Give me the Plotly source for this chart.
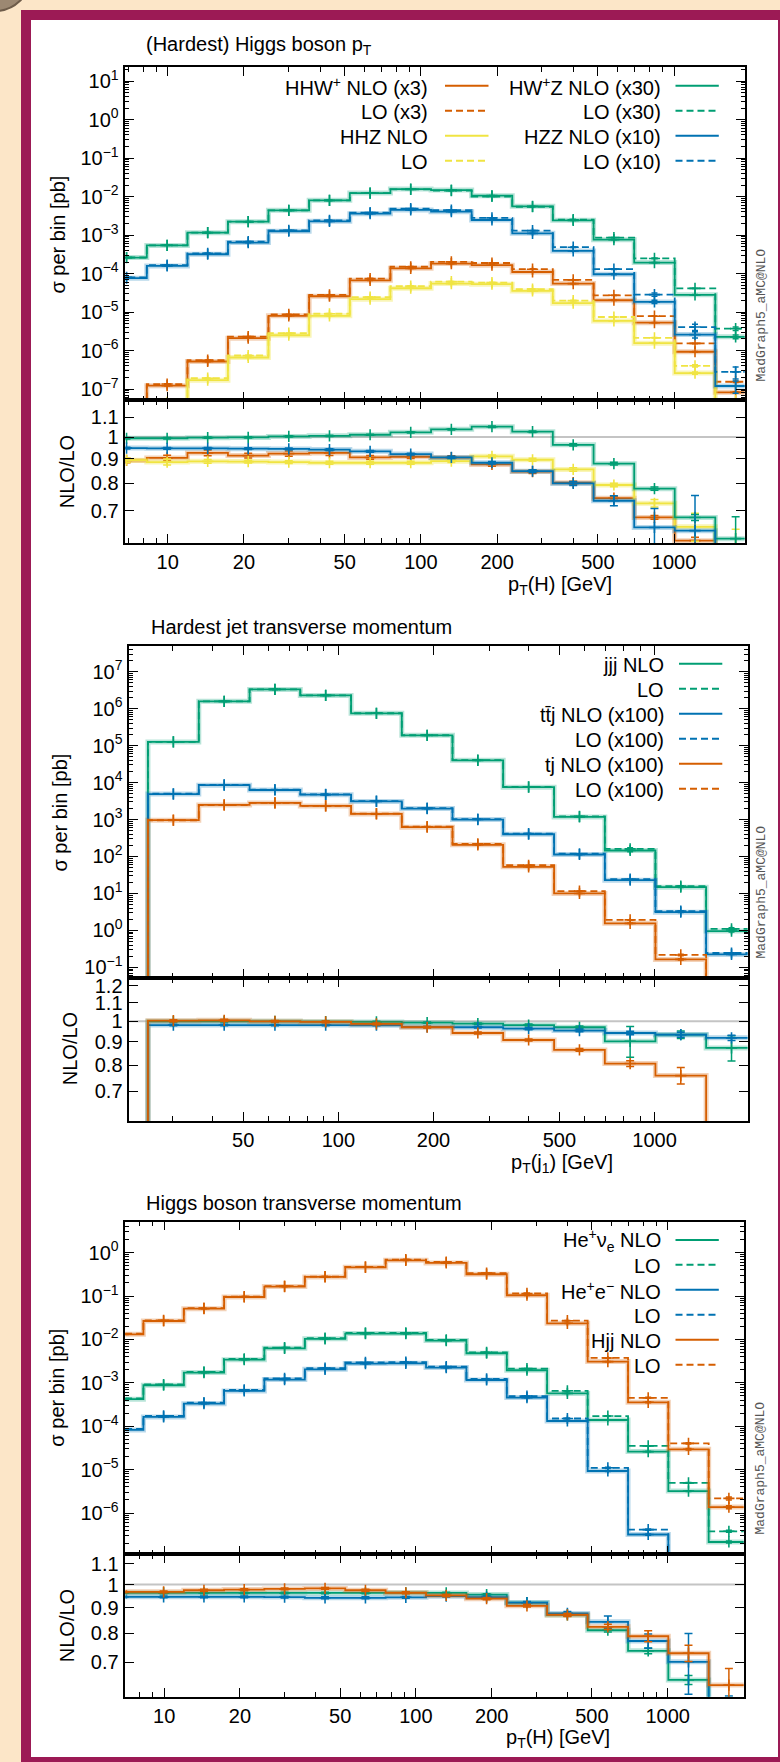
import math
import plotly.graph_objects as go

W, H = 780, 1762
FONT = "Liberation Sans, Arial, Helvetica, sans-serif"
MONO = "Liberation Mono, Courier New, monospace"
GREEN, BLUE, ORANGE, YELLOW = "#009E73", "#0072B2", "#D55E00", "#F0E442"
BAND = {GREEN: "rgba(0,158,115,0.28)", BLUE: "rgba(0,114,178,0.28)",
        ORANGE: "rgba(213,94,0,0.28)", YELLOW: "rgba(240,228,66,0.38)"}

# ---------------- data ----------------
EDGES = [5.72, 8.27, 11.97, 17.3, 25.0, 36.2, 52.4, 75.8, 109.7, 158.7,
         229.6, 332.0, 481.0, 696.0, 1006.0, 1455.0, 2106.0]

# Panel 1: (Hardest) Higgs boson pT
p1_hhw_nlo = [2.0e-8, 1.22e-7, 5.2e-7, 2.1e-6, 8.0e-6, 2.58e-5, 6.7e-5, 1.37e-4,
              1.82e-4, 1.65e-4, 1.10e-4, 5.5e-5, 2.03e-5, 5.3e-6, 9.3e-7, 8.2e-8]
p1_hhw_ratio = [0.893, 0.904, 0.926, 0.914, 0.923, 0.926, 0.906, 0.909,
                0.905, 0.876, 0.846, 0.802, 0.744, 0.678, 0.606, 0.53]
p1_hhw_err = [0.01, 0.012, 0.013, 0.01, 0.012, 0.011, 0.008, 0.008,
              0.008, 0.008, 0.008, 0.006, 0.007, 0.006, 0.01, 0.02]
p1_hhz_nlo = [1.0e-8, 4.0e-8, 1.7e-7, 6.6e-7, 2.5e-6, 8.0e-6, 2.16e-5, 4.16e-5,
              5.5e-5, 5.3e-5, 3.55e-5, 1.7e-5, 5.9e-6, 1.56e-6, 2.6e-7, 3.0e-8]
p1_hhz_ratio = [0.894, 0.886, 0.889, 0.888, 0.886, 0.883, 0.883, 0.883,
                0.890, 0.911, 0.896, 0.855, 0.793, 0.726, 0.648, 0.59]
p1_hhz_err = [0.01, 0.013, 0.008, 0.006, 0.006, 0.006, 0.006, 0.006,
              0.006, 0.006, 0.006, 0.007, 0.007, 0.013, 0.044, 0.05]
p1_hwz_nlo = [2.6e-4, 5.4e-4, 1.16e-3, 2.23e-3, 4.4e-3, 8.0e-3, 1.24e-2, 1.57e-2,
              1.48e-2, 1.06e-2, 5.6e-3, 2.42e-3, 7.6e-4, 1.93e-4, 2.8e-5, 2.27e-6]
p1_hwz_ratio = [0.994, 0.994, 0.997, 0.998, 1.003, 1.006, 1.011, 1.023,
                1.038, 1.051, 1.026, 0.963, 0.879, 0.779, 0.678, 0.612]
p1_hwz_err = [0.004, 0.004, 0.003, 0.003, 0.003, 0.003, 0.003, 0.003,
              0.003, 0.004, 0.004, 0.005, 0.006, 0.006, 0.01, 0.068]
p1_hzz_nlo = [7.6e-5, 1.58e-4, 3.18e-4, 6.4e-4, 1.26e-3, 2.28e-3, 3.6e-3, 4.5e-3,
              4.06e-3, 2.47e-3, 1.11e-3, 3.87e-4, 9.6e-5, 1.84e-5, 2.6e-6, 1.2e-7]
p1_hzz_ratio = [0.948, 0.947, 0.947, 0.945, 0.944, 0.941, 0.933, 0.921,
                0.906, 0.883, 0.848, 0.799, 0.735, 0.646, 0.636, 0.43]
p1_hzz_err = [0.004, 0.004, 0.004, 0.004, 0.004, 0.004, 0.004, 0.004,
              0.005, 0.005, 0.006, 0.008, 0.018, 0.062, 0.118, 0.15]

# Panel 2: Hardest jet transverse momentum
p2_jjj_nlo = [None, None, None, None, 1.26e5, 1.58e6, 3.33e6, 2.29e6,
              7.5e5, 1.9e5, 4.0e4, 7.5e3, 1.18e3, 1.45e2, 14.8, 0.96]
p2_jjj_ratio = [None, None, None, None, 1.0, 1.0, 1.0, 0.998,
                0.997, 0.993, 0.988, 0.981, 0.970, 0.903, 0.934, 0.873]
p2_jjj_err = [None, None, None, None, 0.004, 0.004, 0.003, 0.003,
              0.003, 0.003, 0.004, 0.005, 0.006, 0.071, 0.018, 0.056]
p2_ttj_nlo = [None, None, None, None, 4.9e3, 8.5e3, 6.3e3, 4.7e3,
              3.1e3, 1.98e3, 1.0e3, 4.0e2, 1.13e2, 22.9, 3.1, 0.224]
p2_ttj_ratio = [None, None, None, None, 0.981, 0.981, 0.981, 0.981,
                0.980, 0.972, 0.970, 0.963, 0.954, 0.942, 0.934, 0.919]
p2_ttj_err = [None, None, None, None, 0.004, 0.004, 0.003, 0.003,
              0.003, 0.003, 0.004, 0.005, 0.006, 0.008, 0.012, 0.012]
p2_tj_nlo = [None, None, None, None, 9.6e2, 2.49e3, 2.82e3, 2.34e3,
             1.42e3, 6.2e2, 2.07e2, 52.6, 10.0, 1.55, 0.164, 0.01]
p2_tj_ratio = [None, None, None, None, 1.003, 1.005, 1.0, 0.997,
               0.987, 0.970, 0.942, 0.909, 0.864, 0.806, 0.758, 0.5]
p2_tj_err = [None, None, None, None, 0.005, 0.005, 0.004, 0.004,
             0.004, 0.004, 0.005, 0.005, 0.006, 0.012, 0.032, 0.04]

# Panel 3: Higgs boson transverse momentum
p3_hev_nlo = [4.2e-4, 8.8e-4, 1.72e-3, 3.42e-3, 6.25e-3, 1.03e-2, 1.36e-2, 1.36e-2,
              9.4e-3, 4.8e-3, 1.95e-3, 5.7e-4, 1.39e-4, 2.6e-5, 3.2e-6, 2.15e-7]
p3_hev_ratio = [0.962, 0.962, 0.962, 0.962, 0.962, 0.962, 0.962, 0.963,
                0.962, 0.955, 0.920, 0.870, 0.811, 0.738, 0.646, 0.566]
p3_hev_err = [0.003, 0.003, 0.003, 0.003, 0.003, 0.003, 0.003, 0.003,
              0.003, 0.004, 0.004, 0.005, 0.006, 0.01, 0.013, 0.03]
p3_hee_nlo = [8.2e-5, 1.64e-4, 3.3e-4, 6.5e-4, 1.19e-3, 2.05e-3, 2.77e-3, 2.82e-3,
              2.24e-3, 1.16e-3, 4.56e-4, 1.32e-4, 9.3e-6, 3.2e-7, 3.0e-8, 1.0e-9]
p3_hee_ratio = [0.945, 0.945, 0.945, 0.945, 0.944, 0.941, 0.941, 0.943,
                0.948, 0.944, 0.920, 0.876, 0.843, 0.772, 0.702, 0.5]
p3_hee_err = [0.004, 0.004, 0.004, 0.004, 0.004, 0.004, 0.004, 0.004,
              0.004, 0.004, 0.005, 0.008, 0.023, 0.025, 0.097, 0.1]
p3_hjj_nlo = [1.31e-2, 2.66e-2, 5.1e-2, 9.5e-2, 0.165, 0.275, 0.459, 0.665,
              0.578, 0.317, 0.104, 2.35e-2, 3.08e-3, 3.56e-4, 2.94e-5, 1.37e-6]
p3_hjj_ratio = [0.967, 0.967, 0.974, 0.977, 0.980, 0.982, 0.974, 0.963,
                0.951, 0.937, 0.907, 0.870, 0.824, 0.789, 0.730, 0.631]
p3_hjj_err = [0.004, 0.004, 0.004, 0.004, 0.004, 0.004, 0.004, 0.004,
              0.004, 0.004, 0.005, 0.006, 0.01, 0.02, 0.027, 0.05]

TITLES = ["(Hardest) Higgs boson p<sub>T</sub>", "Hardest jet transverse momentum",
          "Higgs boson transverse momentum"]
XTITLES = ["p<sub>T</sub>(H) [GeV]", "p<sub>T</sub>(j<sub>1</sub>) [GeV]", "p<sub>T</sub>(H) [GeV]"]

LEG1 = [("HHW<sup>+</sup> NLO (x3)", ORANGE, False), ("LO (x3)", ORANGE, True),
        ("HHZ NLO", YELLOW, False), ("LO", YELLOW, True)]
LEG1b = [("HW<sup>+</sup>Z NLO (x30)", GREEN, False), ("LO (x30)", GREEN, True),
         ("HZZ NLO (x10)", BLUE, False), ("LO (x10)", BLUE, True)]
LEG2 = [("jjj NLO", GREEN, False), ("LO", GREEN, True),
        ("tt\u0304j NLO (x100)", BLUE, False), ("LO (x100)", BLUE, True),
        ("tj NLO (x100)", ORANGE, False), ("LO (x100)", ORANGE, True)]
LEG3 = [("He<sup>+</sup>\u03bd<sub>e</sub> NLO", GREEN, False), ("LO", GREEN, True),
        ("He<sup>+</sup>e<sup>\u2212</sup> NLO", BLUE, False), ("LO", BLUE, True),
        ("Hjj NLO", ORANGE, False), ("LO", ORANGE, True)]

SERIES = [
    [(p1_hhw_nlo, p1_hhw_ratio, p1_hhw_err, ORANGE), (p1_hhz_nlo, p1_hhz_ratio, p1_hhz_err, YELLOW),
     (p1_hwz_nlo, p1_hwz_ratio, p1_hwz_err, GREEN), (p1_hzz_nlo, p1_hzz_ratio, p1_hzz_err, BLUE)],
    [(p2_jjj_nlo, p2_jjj_ratio, p2_jjj_err, GREEN), (p2_ttj_nlo, p2_ttj_ratio, p2_ttj_err, BLUE),
     (p2_tj_nlo, p2_tj_ratio, p2_tj_err, ORANGE)],
    [(p3_hev_nlo, p3_hev_ratio, p3_hev_err, GREEN), (p3_hee_nlo, p3_hee_ratio, p3_hee_err, BLUE),
     (p3_hjj_nlo, p3_hjj_ratio, p3_hjj_err, ORANGE)],
]

# ---------------- layout geometry (pixels) ----------------
PANELS = [
    dict(left=125.4, right=744.7, top=64, split=398, bottom=541,
         xr=(0.833, 3.279), yr=(-7.293, 1.371), rr=(math.log10(0.599), math.log10(1.194)),
         xmaj=[10, 20, 50, 100, 200, 500, 1000], ymaj=list(range(-7, 2)),
         rmaj=[0.7, 0.8, 0.9, 1.0, 1.1],
         title=(144, 43), xt=(560, 583), yt=(58, 232), rt=(67, 470), mg=313,
         legs=[(LEG1, 430.3, 445, 488.5, [83, 108, 133, 158]),
               (LEG1b, 662.6, 675.5, 718.8, [83, 108, 133, 158])]),
    dict(left=129.3, right=747.6, top=644, split=976.7, bottom=1120,
         xr=(1.339, 3.294), yr=(-1.29, 7.70), rr=(math.log10(0.601), math.log10(1.247)),
         xmaj=[50, 100, 200, 500, 1000], ymaj=list(range(-1, 8)),
         rmaj=[0.7, 0.8, 0.9, 1.0, 1.1, 1.2],
         title=(149, 625), xt=(562, 1162), yt=(60, 811), rt=(70, 1048), mg=891,
         legs=[(LEG2, 665.6, 679, 722.3, [662, 687, 712, 737, 762, 787])]),
    dict(left=125.4, right=743.7, top=1220.7, split=1554, bottom=1696.7,
         xr=(0.846, 3.302), yr=(-6.952, 0.714), rr=(math.log10(0.598), math.log10(1.148)),
         xmaj=[10, 20, 50, 100, 200, 500, 1000], ymaj=list(range(-6, 1)),
         rmaj=[0.7, 0.8, 0.9, 1.0, 1.1],
         title=(144, 1202), xt=(558, 1738), yt=(57, 1387), rt=(67, 1626), mg=1468,
         legs=[(LEG3, 662.6, 675.5, 718.8, [1239, 1264, 1289, 1314, 1339, 1364])]),
]


def fx(px):
    return px / W


def fy(py):
    return 1 - py / H


CENTERS = [math.sqrt(a * b) for a, b in zip(EDGES[:-1], EDGES[1:])]


def minor_vals(kmin, kmax, majors):
    out = []
    for k in range(kmin, kmax + 1):
        for d in range(1, 10):
            v = d * 10 ** k
            if not any(abs(v - m) < 1e-9 * max(abs(m), 1e-30) for m in majors):
                out.append(v)
    return out


def exp_label(k):
    s = str(k).replace("-", "\u2212")
    return "10<sup>" + s + "</sup>"


fig = go.Figure()
layout = dict(width=W, height=H, margin=dict(l=0, r=0, t=0, b=0), autosize=False,
              paper_bgcolor="#FCE6C8", plot_bgcolor="white", showlegend=False,
              font=dict(family=FONT, size=20, color="black"))
annotations = []
shapes = []

# decorative frame
shapes.append(dict(type="circle", xref="paper", yref="paper", layer="below",
                   x0=fx(-40), x1=fx(30), y0=fy(8), y1=fy(-60),
                   fillcolor="#9c8872", line=dict(color="#6e5c4a", width=2)))
shapes.append(dict(type="rect", xref="paper", yref="paper", layer="below",
                   x0=fx(26), x1=fx(783), y0=fy(1762), y1=fy(12),
                   fillcolor="white", line=dict(color="#9C1A55", width=10)))

common_axis = dict(showline=True, linecolor="black", linewidth=1.5, mirror="ticks",
                   ticks="inside", tickcolor="black", tickwidth=1.2, showgrid=False,
                   zeroline=False, tickfont=dict(family=FONT, size=20, color="black"))

for i, P in enumerate(PANELS):
    mi, ri = 2 * i + 1, 2 * i + 2
    xm = "xaxis" if mi == 1 else "xaxis%d" % mi
    ym = "yaxis" if mi == 1 else "yaxis%d" % mi
    xr_, yr_ = "xaxis%d" % ri, "yaxis%d" % ri
    xref_m = "x" if mi == 1 else "x%d" % mi
    yref_m = "y" if mi == 1 else "y%d" % mi
    xref_r, yref_r = "x%d" % ri, "y%d" % ri
    xdom = [fx(P["left"]), fx(P["right"])]
    xmin_vals = minor_vals(0, 3, P["xmaj"])
    xcfg = dict(common_axis, type="log", range=list(P["xr"]), domain=xdom,
                tickmode="array", tickvals=P["xmaj"], ticktext=[str(v) for v in P["xmaj"]],
                ticklen=9, ticklabelstandoff=0,
                minor=dict(ticks="inside", ticklen=5, tickvals=xmin_vals,
                           tickcolor="black", tickwidth=1))
    layout[xm] = dict(xcfg, anchor=yref_m, showticklabels=False)
    layout[xr_] = dict(xcfg, anchor=yref_r, showticklabels=True)
    ymin_vals = minor_vals(P["ymaj"][0] - 1, P["ymaj"][-1] + 1, [])
    ymin_vals = [v for v in ymin_vals if abs(math.log10(v) - round(math.log10(v))) > 1e-9]
    layout[ym] = dict(common_axis, type="log", range=list(P["yr"]),
                      domain=[fy(P["split"]), fy(P["top"])], anchor=xref_m,
                      tickmode="array", tickvals=[10.0 ** k for k in P["ymaj"]],
                      ticktext=[exp_label(k) for k in P["ymaj"]],
                      ticklen=9, ticklabelstandoff=1,
                      minor=dict(ticks="inside", ticklen=4, tickvals=ymin_vals,
                                 tickcolor="black", tickwidth=1))
    layout[yr_] = dict(common_axis, type="log", range=list(P["rr"]),
                       domain=[fy(P["bottom"]), fy(P["split"])], anchor=xref_r,
                       tickmode="array", tickvals=P["rmaj"],
                       ticktext=[("%g" % v) for v in P["rmaj"]],
                       ticklen=9, ticklabelstandoff=1)

    # reference line at ratio = 1
    fig.add_trace(go.Scatter(x=[1, 1e4], y=[1, 1], mode="lines", xaxis=xref_r, yaxis=yref_r,
                             line=dict(color="#c4c4c4", width=2), hoverinfo="skip"))

    for nlo, ratio, err, col in SERIES[i]:
        lo = [n / r if (n is not None and r is not None) else None for n, r in zip(nlo, ratio)]
        y_nlo = [v if v is not None else 1e-30 for v in nlo]
        y_lo = [v if v is not None else 1e-30 for v in lo]
        y_rat = [v if v is not None else 1e-3 for v in ratio]
        rel = [e / r if (e is not None and r is not None) else None for e, r in zip(err, ratio)]
        # main panel
        fig.add_trace(go.Scatter(x=EDGES, y=y_nlo + [y_nlo[-1]], mode="lines", line_shape="hv",
                                 xaxis=xref_m, yaxis=yref_m, line=dict(color=BAND[col], width=5)))
        fig.add_trace(go.Scatter(x=EDGES, y=y_lo + [y_lo[-1]], mode="lines", line_shape="hv",
                                 xaxis=xref_m, yaxis=yref_m,
                                 line=dict(color=col, width=1.8, dash="7px,4px")))
        fig.add_trace(go.Scatter(x=EDGES, y=y_nlo + [y_nlo[-1]], mode="lines", line_shape="hv",
                                 xaxis=xref_m, yaxis=yref_m, line=dict(color=col, width=1.8)))
        for vals in (nlo, lo):
            fig.add_trace(go.Scatter(
                x=CENTERS, y=vals, mode="markers", xaxis=xref_m, yaxis=yref_m,
                marker=dict(symbol="cross-thin", size=8, color=col, line=dict(color=col, width=1.6)),
                error_y=dict(type="data",
                             array=[(v * q if (v is not None and q is not None) else None)
                                    for v, q in zip(vals, rel)],
                             color=col, thickness=1.5, width=3)))
        # ratio panel
        fig.add_trace(go.Scatter(x=EDGES, y=y_rat + [y_rat[-1]], mode="lines", line_shape="hv",
                                 xaxis=xref_r, yaxis=yref_r, line=dict(color=BAND[col], width=5)))
        fig.add_trace(go.Scatter(x=EDGES, y=y_rat + [y_rat[-1]], mode="lines", line_shape="hv",
                                 xaxis=xref_r, yaxis=yref_r, line=dict(color=col, width=1.8)))
        fig.add_trace(go.Scatter(
            x=CENTERS, y=ratio, mode="markers", xaxis=xref_r, yaxis=yref_r,
            marker=dict(symbol="cross-thin", size=8, color=col, line=dict(color=col, width=1.6)),
            error_y=dict(type="data", array=err, color=col, thickness=1.5, width=4)))

    # texts
    tx, ty = P["title"]
    annotations.append(dict(text=TITLES[i], x=fx(tx), y=fy(ty), xref="paper", yref="paper",
                            xanchor="left", yanchor="middle", showarrow=False,
                            font=dict(family=FONT, size=20)))
    annotations.append(dict(text=XTITLES[i], x=fx(P["xt"][0]), y=fy(P["xt"][1]), xref="paper",
                            yref="paper", xanchor="center", yanchor="middle", showarrow=False,
                            font=dict(family=FONT, size=20)))
    annotations.append(dict(text="\u03c3 per bin [pb]", x=fx(P["yt"][0]), y=fy(P["yt"][1]),
                            xref="paper", yref="paper", xanchor="center", yanchor="middle",
                            textangle=-90, showarrow=False, font=dict(family=FONT, size=20)))
    annotations.append(dict(text="NLO/LO", x=fx(P["rt"][0]), y=fy(P["rt"][1]),
                            xref="paper", yref="paper", xanchor="center", yanchor="middle",
                            textangle=-90, showarrow=False, font=dict(family=FONT, size=20)))
    annotations.append(dict(text="MadGraph5_aMC@NLO", x=fx(761), y=fy(P["mg"]),
                            xref="paper", yref="paper", xanchor="center", yanchor="middle",
                            textangle=-90, showarrow=False,
                            font=dict(family=MONO, size=13, color="#555555")))
    # legends
    for entries, txr, sx0, sx1, rows in P["legs"]:
        for (label, col, dashed), ry in zip(entries, rows):
            annotations.append(dict(text=label, x=fx(txr), y=fy(ry + 1), xref="paper",
                                    yref="paper", xanchor="right", yanchor="middle",
                                    showarrow=False, font=dict(family=FONT, size=20)))
            shapes.append(dict(type="line", xref="paper", yref="paper",
                               x0=fx(sx0), x1=fx(sx1), y0=fy(ry), y1=fy(ry),
                               line=dict(color=col, width=2, dash="7px,4px" if dashed else "solid")))

layout["annotations"] = annotations
layout["shapes"] = shapes
fig.update_layout(**layout)
fig.write_html("out.html")
